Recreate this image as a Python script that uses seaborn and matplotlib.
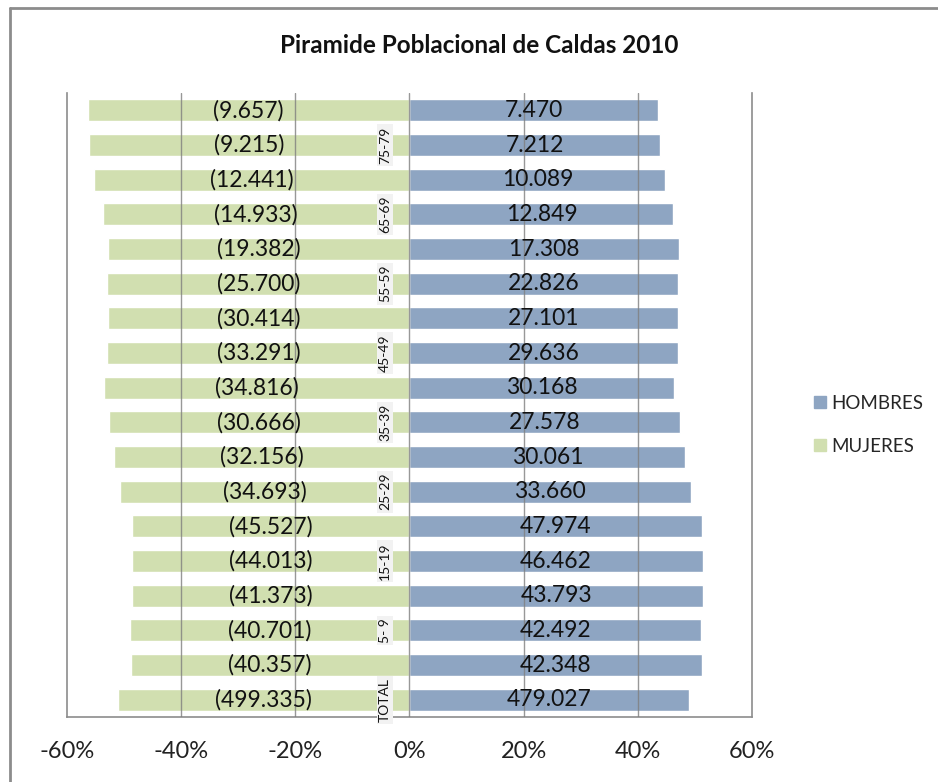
import pandas as pd
import matplotlib.pyplot as plt
import seaborn as sns
from matplotlib.lines import Line2D

# Grupos de edad (de arriba hacia abajo) y poblacion por sexo
grupos = ['80+', '75-79', '70-74', '65-69', '60-64', '55-59', '50-54', '45-49',
          '40-44', '35-39', '30-34', '25-29', '20-24', '15-19', '10-14', '5- 9',
          '0-4', 'TOTAL']
hombres = [7470, 7212, 10089, 12849, 17308, 22826, 27101, 29636, 30168, 27578,
           30061, 33660, 47974, 46462, 43793, 42492, 42348, 479027]
mujeres = [9657, 9215, 12441, 14933, 19382, 25700, 30414, 33291, 34816, 30666,
           32156, 34693, 45527, 44013, 41373, 40701, 40357, 499335]
etiquetas_visibles = ['75-79', '65-69', '55-59', '45-49', '35-39', '25-29',
                      '15-19', '5- 9', 'TOTAL']

color_h = '#8EA5C2'
color_m = '#D1DFB0'

sns.set_theme(style='white')
plt.rcParams['font.family'] = ['Lato', 'DejaVu Sans']


def fmt_miles(v):
    return f'{v:,}'.replace(',', '.')


# porcentaje de cada sexo dentro del grupo
filas = []
for g, h, m in zip(grupos, hombres, mujeres):
    tot = h + m
    filas.append({'grupo': g, 'sexo': 'HOMBRES', 'pct': 100 * h / tot, 'n': h})
    filas.append({'grupo': g, 'sexo': 'MUJERES', 'pct': -100 * m / tot, 'n': m})
df = pd.DataFrame(filas)

fig = plt.figure(figsize=(9.38, 7.82), dpi=100)
ax = fig.add_axes([0.0714, 0.0831, 0.7303, 0.7979])

sns.barplot(data=df, y='grupo', x='pct', hue='sexo', order=grupos,
            hue_order=['HOMBRES', 'MUJERES'], palette=[color_h, color_m],
            dodge=False, orient='h', width=0.63, saturation=1, ax=ax, legend=False)

ax.set_xlim(-60, 60)
ax.set_ylim(len(grupos) - 0.5, -0.5)
ax.set_xticks([-60, -40, -20, 0, 20, 40, 60])
ax.set_xticklabels([f'{t}%' for t in [-60, -40, -20, 0, 20, 40, 60]], fontsize=17, color='#222222')
ax.tick_params(axis='x', length=0, pad=17)
ax.set_yticks([])
ax.set_xlabel('')
ax.set_ylabel('')

for x in [-40, -20, 0, 20, 40]:
    ax.axvline(x, color='#7f7f7f', lw=1, zorder=5, alpha=0.8)

for s in ['left', 'right', 'bottom']:
    ax.spines[s].set_color('#8c8c8c')
    ax.spines[s].set_linewidth(1.2)
ax.spines['top'].set_visible(False)

# etiquetas de datos
for i, (g, h, m) in enumerate(zip(grupos, hombres, mujeres)):
    tot = h + m
    ax.text(50 * h / tot, i, fmt_miles(h), ha='center', va='center', fontsize=16.5, color='#111111', zorder=6)
    ax.text(-50 * m / tot, i, f'({fmt_miles(m)})', ha='center', va='center', fontsize=16.5, color='#111111', zorder=6)
    if g in etiquetas_visibles:
        ax.text(-4.3, i, g, rotation=90, ha='center', va='center', fontsize=10, color='#111111', zorder=7,
                bbox=dict(boxstyle='square,pad=0.15', facecolor='#f2f2f2', edgecolor='none'))

fig.text(0.511, 0.942, 'Piramide Poblacional de Caldas 2010', ha='center', va='center',
         fontsize=17.5, fontweight='bold', color='#111111')

handles = [Line2D([], [], marker='s', ls='', color=color_h, markersize=9),
           Line2D([], [], marker='s', ls='', color=color_m, markersize=9)]
fig.legend(handles, ['HOMBRES', 'MUJERES'], loc='center left', bbox_to_anchor=(0.844, 0.457),
           frameon=False, fontsize=13.5, handletextpad=0.0, labelspacing=1.4, handlelength=1.2)

# marco exterior del grafico (solo arriba e izquierda visibles)
fig.add_artist(Line2D([0.0105, 1.0], [0.9895, 0.9895], transform=fig.transFigure, color='#8c8c8c', lw=2))
fig.add_artist(Line2D([0.0105, 0.0105], [0.0, 0.9895], transform=fig.transFigure, color='#8c8c8c', lw=2))

fig.savefig('out.png', dpi=100)
